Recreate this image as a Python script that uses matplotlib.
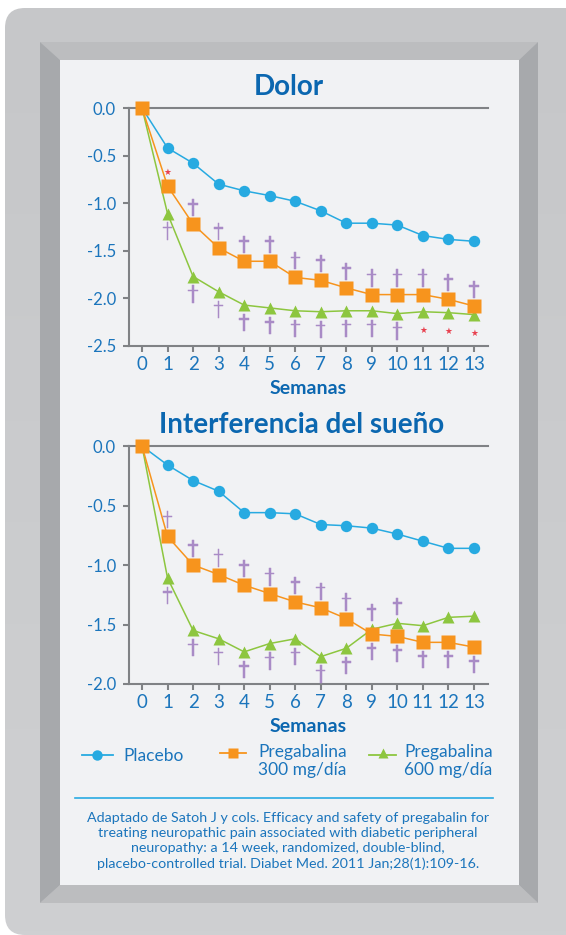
import matplotlib
matplotlib.use("Agg")
import matplotlib.pyplot as plt
import matplotlib.patheffects as pe
import numpy as np
from matplotlib.patches import Polygon, Rectangle, FancyBboxPatch

plt.rcParams['font.family'] = ['Lato', 'DejaVu Sans']

# ---- data -------------------------------------------------------------
weeks = list(range(14))

pain_placebo = [0.0, -0.42, -0.58, -0.80, -0.87, -0.92, -0.98, -1.08, -1.21, -1.21, -1.23, -1.34, -1.38, -1.40]
pain_pgb300 = [0.0, -0.82, -1.22, -1.47, -1.61, -1.61, -1.78, -1.81, -1.89, -1.96, -1.96, -1.96, -2.01, -2.08]
pain_pgb600 = [0.0, -1.11, -1.77, -1.93, -2.07, -2.10, -2.13, -2.14, -2.13, -2.13, -2.16, -2.14, -2.15, -2.17]

sleep_placebo = [0.0, -0.16, -0.29, -0.38, -0.56, -0.56, -0.57, -0.66, -0.67, -0.69, -0.74, -0.80, -0.86, -0.86]
sleep_pgb300 = [0.0, -0.76, -1.00, -1.08, -1.17, -1.24, -1.31, -1.36, -1.45, -1.58, -1.60, -1.65, -1.65, -1.69]
sleep_pgb600 = [0.0, -1.11, -1.55, -1.62, -1.73, -1.66, -1.62, -1.77, -1.70, -1.54, -1.49, -1.51, -1.44, -1.43]

# significance marks per week: above the upper active arm / below the lower one
pain_marks_above = ['', '*', '†', '†', '†', '†', '†', '†', '†', '†', '†', '†', '†', '†']
pain_marks_below = ['', '†', '†', '†', '†', '†', '†', '†', '†', '†', '†', '*', '*', '*']
sleep_marks_above = ['', '†', '†', '†', '†', '†', '†', '†', '†', '†', '†', '', '', '']
sleep_marks_below = ['', '†', '†', '†', '†', '†', '†', '†', '†', '†', '†', '†', '†', '†']

pain_yticks = [0.0, -0.5, -1.0, -1.5, -2.0, -2.5]
sleep_yticks = [0.0, -0.5, -1.0, -1.5, -2.0]

series_labels = ['Placebo', 'Pregabalina\n300 mg/día', 'Pregabalina\n600 mg/día']
titles = ['Dolor', 'Interferencia del sueño']
xlabel = 'Semanas'
caption = ('Adaptado de Satoh J y cols. Efficacy and safety of pregabalin for\n'
           'treating neuropathic pain associated with diabetic peripheral\n'
           'neuropathy: a 14 week, randomized, double-blind,\n'
           'placebo-controlled trial. Diabet Med. 2011 Jan;28(1):109-16.')

# ---- style ------------------------------------------------------------
C_PLACEBO = '#27AAE1'
C_300 = '#F7941D'
C_600 = '#8DC63F'
C_TEXT = '#1B75BC'
C_TITLE = '#0B67B0'
C_AXIS = '#808285'
C_DAGGER = '#A98BC6'
C_STAR = '#E8414F'
C_PANEL = '#F1F2F4'

W, H = 566, 935
fig = plt.figure(figsize=(W / 100, H / 100), dpi=100)
fig.patch.set_facecolor('white')

# background frame (pixel coordinates)
bg = fig.add_axes([0, 0, 1, 1], zorder=0)
bg.set_xlim(0, W)
bg.set_ylim(H, 0)
bg.axis('off')

outer = FancyBboxPatch((5, 8), W - 5 + 30, H - 8, boxstyle='round,pad=0,rounding_size=20',
                       facecolor='none', edgecolor='none')
bg.add_patch(outer)
grad = np.linspace(0, 1, 256).reshape(-1, 1)
im = bg.imshow(grad, extent=[5, W + 30, H, 8], cmap=matplotlib.colors.LinearSegmentedColormap.from_list(
    'frame', ['#C6C7C9', '#CFD0D2']), aspect='auto', zorder=0)
im.set_clip_path(outer)
bg.set_xlim(0, W)
bg.set_ylim(H, 0)

x0, x1, y0, y1 = 40, 538, 42, 903
p0, p1, q0, q1 = 60, 519, 60, 885
bg.add_patch(Polygon([(x0, y0), (x1, y0), (p1, q0), (p0, q0)], closed=True, facecolor='#BCBDBF', edgecolor='none', zorder=1))
bg.add_patch(Polygon([(x0, y1), (x1, y1), (p1, q1), (p0, q1)], closed=True, facecolor='#BCBDBF', edgecolor='none', zorder=1))
bg.add_patch(Polygon([(x0, y0), (p0, q0), (p0, q1), (x0, y1)], closed=True, facecolor='#A7A9AC', edgecolor='none', zorder=1))
bg.add_patch(Polygon([(x1, y0), (p1, q0), (p1, q1), (x1, y1)], closed=True, facecolor='#A7A9AC', edgecolor='none', zorder=1))
bg.add_patch(Rectangle((p0, q0), p1 - p0, q1 - q0, facecolor=C_PANEL, edgecolor='none', zorder=1))

# ---- charts -----------------------------------------------------------
def px_axes(left, top, right, bottom):
    return fig.add_axes([left / W, 1 - bottom / H, (right - left) / W, (bottom - top) / H], zorder=2)


dagger_fx = [pe.withStroke(linewidth=0.35, foreground=C_DAGGER)]


def draw_panel(ax, placebo, pgb300, pgb600, yticks, above, below):
    ax.patch.set_alpha(0)
    ax.plot(weeks, placebo, color=C_PLACEBO, lw=1.1, marker='o', ms=8.2, mec='none', zorder=3, clip_on=False)
    ax.plot(weeks, pgb600, color=C_600, lw=1.1, marker='^', ms=9, mec='none', zorder=4, clip_on=False)
    ax.plot(weeks, pgb300, color=C_300, lw=1.1, marker='s', ms=9.5, mec='none', zorder=5, clip_on=False)

    for w in weeks:
        hi = max(pgb300[w], pgb600[w])
        lo = min(pgb300[w], pgb600[w])
        for sym, val, up in ((above[w], hi, True), (below[w], lo, False)):
            if not sym:
                continue
            if sym == '†':
                ax.annotate(sym, (w, val), xytext=(0, 16 if up else -18), textcoords='offset pixels',
                            ha='center', va='center', fontsize=15, family='DejaVu Sans',
                            color=C_DAGGER, zorder=6, path_effects=dagger_fx)
            else:
                ax.annotate('★', (w, val), xytext=(0, 14 if up else -19), textcoords='offset pixels',
                            ha='center', va='center', fontsize=6.3, family='DejaVu Sans',
                            color=C_STAR, zorder=6)

    ax.set_xlim(-0.51, 13.55)
    ax.set_ylim(yticks[-1], 0)
    ax.set_xticks(weeks)
    ax.set_yticks(yticks)
    ax.set_yticklabels([f'{v:.1f}' for v in yticks])
    ax.spines['right'].set_visible(False)
    for side in ('left', 'bottom', 'top'):
        ax.spines[side].set_color(C_AXIS)
        ax.spines[side].set_linewidth(1.5)
    ax.tick_params(axis='both', colors=C_AXIS, width=1.5, length=4.5, direction='out')
    ax.tick_params(axis='x', labelcolor=C_TEXT, labelsize=13.5, pad=3)
    ax.tick_params(axis='y', labelcolor=C_TEXT, labelsize=12, pad=5)
    ax.set_xlabel(xlabel, color=C_TITLE, fontsize=14, fontweight='bold', labelpad=5)


ax1 = px_axes(129, 108, 488, 346)
draw_panel(ax1, pain_placebo, pain_pgb300, pain_pgb600, pain_yticks, pain_marks_above, pain_marks_below)
ax2 = px_axes(129, 446, 488, 684)
draw_panel(ax2, sleep_placebo, sleep_pgb300, sleep_pgb600, sleep_yticks, sleep_marks_above, sleep_marks_below)

bg.text(289, 87, titles[0], ha='center', va='center', fontsize=20, fontweight='bold', color=C_TITLE)
bg.text(302, 425, titles[1], ha='center', va='center', fontsize=20, fontweight='bold', color=C_TITLE)

# ---- legend -----------------------------------------------------------
bg.plot([82, 113], [755, 755], color=C_PLACEBO, lw=1.3, zorder=3)
bg.plot([97], [755], marker='o', ms=7.5, color=C_PLACEBO, mec='none', zorder=3)
bg.text(123, 756, series_labels[0], ha='left', va='center', fontsize=12.5, color=C_TEXT, zorder=3)

bg.plot([220, 246], [753, 753], color=C_300, lw=1.3, zorder=3)
bg.plot([233], [753], marker='s', ms=7.5, color=C_300, mec='none', zorder=3)
bg.text(258, 761, series_labels[1], ha='left', va='center', fontsize=12.5, color=C_TEXT,
        linespacing=1.15, zorder=3)

bg.plot([369, 396], [755, 755], color=C_600, lw=1.3, zorder=3)
bg.plot([383], [753], marker='^', ms=7.5, color=C_600, mec='none', zorder=3)
bg.text(404, 761, series_labels[2], ha='left', va='center', fontsize=12.5, color=C_TEXT,
        linespacing=1.15, zorder=3)

# ---- source note ------------------------------------------------------
bg.plot([75, 493], [798, 798], color='#29ABE2', lw=1.2, zorder=3)
bg.text(288, 841, caption, ha='center', va='center', fontsize=10.3, color=C_TEXT,
        linespacing=1.31, zorder=3)

fig.savefig('out.png', dpi=100)
